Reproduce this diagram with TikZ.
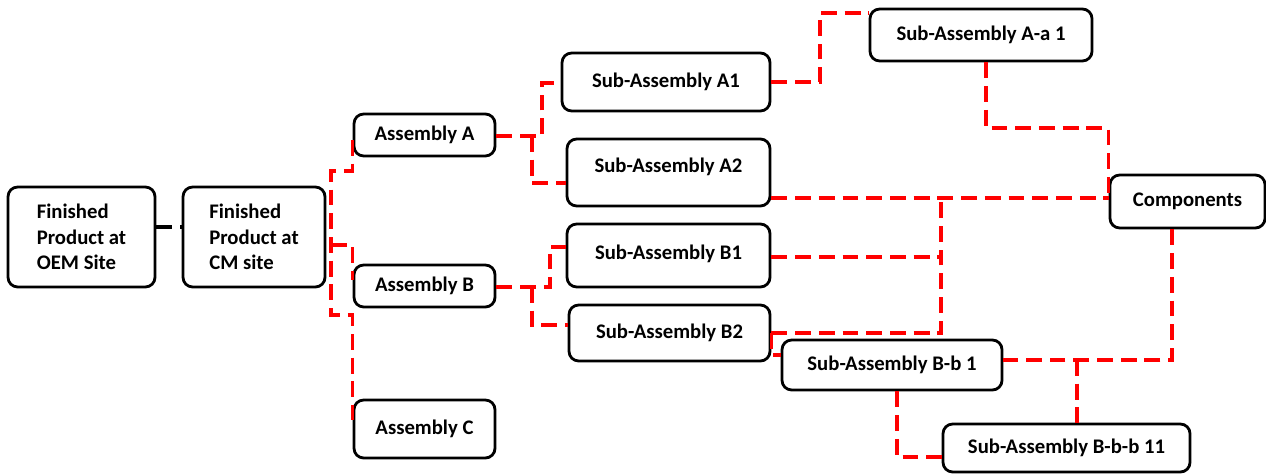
\documentclass[tikz,border=0pt]{standalone}
\usepackage{fontspec}
\setmainfont{Carlito}
\begin{document}
\begin{tikzpicture}[x=0.02cm,y=-0.02cm,
    box/.style={draw,line width=1.6pt,rounded corners=5.5pt,inner sep=0pt,
                font=\fontsize{11.8}{14.4}\selectfont\bfseries,align=left},
    sz/.style 2 args={minimum width=#1*0.02cm,minimum height=#2*0.02cm},
    link/.style={draw=red,line width=1.8pt,dash pattern=on 9pt off 4.5pt}]
  \useasboundingbox (0,0) rectangle (1266,476);
  % boxes
  \node[box,sz={147}{100}] (oem) at (81.5,237) {Finished\\Product at\\OEM Site};
  \node[box,sz={142}{100}] (cm)  at (254,237) {Finished\\Product at\\CM site};
  \node[box,sz={141}{42}] (asmA) at (424.5,135) {Assembly A};
  \node[box,sz={141}{42}] (asmB) at (424.5,286) {Assembly B};
  \node[box,sz={141}{58}] (asmC) at (424.5,429) {Assembly C};
  \node[box,sz={208}{58}] (subA1) at (666,82) {Sub-Assembly A1};
  \node[box,sz={203}{67},text depth=0.3cm] (subA2) at (668.5,172.5) {Sub-Assembly A2};
  \node[box,sz={203}{63},text depth=0.15cm] (subB1) at (668.5,255.5) {Sub-Assembly B1};
  \node[box,sz={201}{56}] (subB2) at (669.5,333) {Sub-Assembly B2};
  \node[box,sz={222}{52}] (subAa1) at (981,35) {Sub-Assembly A-a 1};
  \node[box,sz={155}{53}] (comp) at (1187.5,201.5) {Components};
  \node[box,sz={220}{50}] (subBb1) at (892,365) {Sub-Assembly B-b 1};
  \node[box,sz={247}{48}] (subBbb11) at (1066.5,448) {Sub-Assembly B-b-b 11};
  % junctions
  \coordinate (bus) at (331,236);
  \coordinate (jA) at (532,136);
  \coordinate (jB) at (532,287);
  \coordinate (busR) at (941,198);
  % OEM to CM
  \draw[line width=1.8pt,dash pattern=on 9pt off 4.5pt] (oem.east |- 0,227) -- (cm.west |- 0,227);
  % CM to assemblies
  \draw[link] (asmA.west |- 0,140) |- (bus |- 0,171) -- (bus |- 0,315) -| (asmC.west |- 0,420);
  \draw[link] (bus |- 0,245) -| (asmB.west |- 0,280);
  % assembly A
  \draw[link] (asmA.east |- jA) -| (542,83) -- (subA1.west |- 0,83);
  \draw[link] (jA) |- (subA2.west |- 0,183);
  % assembly B
  \draw[link] (asmB.east |- jB) -| (550,247) -- (subB1.west |- 0,247);
  \draw[link] (jB) |- (subB2.west |- 0,325);
  % A1 and A-a 1
  \draw[link] (subA1.east |- 0,82) -| (820,13) -- (subAa1.west |- 0,13);
  \draw[link] (subAa1.south -| 986,0) |- (comp.west |- 0,128) -- (comp.west |- 0,197);
  % to components
  \draw[link] (subA2.east |- busR) -- (comp.west |- busR);
  \draw[link] (subB1.east |- 0,257) -- (busR |- 0,257);
  \draw[link] (subB2.east |- 0,333) -| (busR);
  % B-b branch
  \draw[link] (subB2.east |- 0,333) |- (subBb1.west |- 0,355);
  \draw[link] (comp.south -| 1172,0) |- (subBb1.east |- 0,360);
  \draw[link] (1077,360) -- (subBbb11.north -| 1077,0);
  \draw[link] (subBb1.south -| 897,0) |- (subBbb11.west |- 0,457);
\end{tikzpicture}
\end{document}
